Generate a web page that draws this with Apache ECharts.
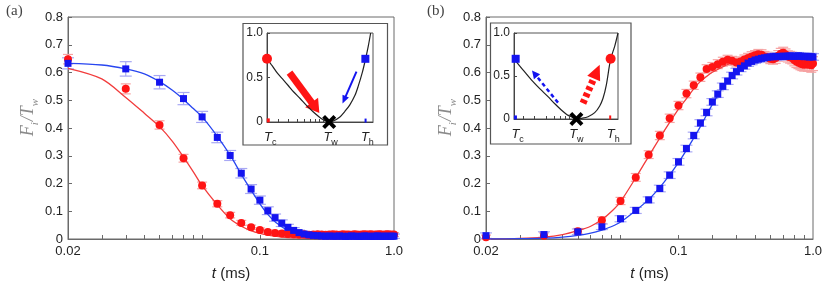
<!DOCTYPE html>
<html><head><meta charset="utf-8">
<script src="https://cdn.jsdelivr.net/npm/echarts@6/dist/echarts.min.js"></script>
<style>html,body{margin:0;padding:0;background:#fff}#c{width:830px;height:286px}</style>
</head><body><div id="c"></div>
<script>
// ---------- data ----------
const tSamples = [0.02,0.04,0.06,0.08,0.1,0.12,0.14,0.16,0.18,0.2,
  0.22,0.24,0.26,0.28,0.3,0.32,0.34,0.36,0.38,0.4,
  0.42,0.44,0.46,0.48,0.5,0.52,0.54,0.56,0.58,0.6,
  0.62,0.64,0.66,0.68,0.7,0.72,0.74,0.76,0.78,0.8,
  0.82,0.84,0.86,0.88,0.9,0.92,0.94,0.96,0.98,1.0];

const redA = [0.648,0.541,0.411,0.291,0.193,0.127,0.086,0.058,0.042,0.032,
  0.025,0.022,0.020,0.018,0.017,0.016,0.017,0.015,0.016,0.017,
  0.016,0.015,0.016,0.017,0.016,0.015,0.017,0.016,0.016,0.015,
  0.017,0.016,0.015,0.016,0.017,0.016,0.016,0.017,0.015,0.016,
  0.016,0.017,0.016,0.015,0.016,0.017,0.016,0.016,0.015,0.016];
const redAErr = [0.017,0.018,0.015,0.014,0.012,0.011,0.010,0.009,0.008,0.008,
  0.008,0.007,0.007,0.007,0.007,0.007,0.007,0.007,0.007,0.007,
  0.007,0.007,0.007,0.007,0.007,0.007,0.007,0.007,0.007,0.007,
  0.007,0.007,0.007,0.007,0.007,0.007,0.007,0.007,0.007,0.007,
  0.007,0.007,0.007,0.007,0.007,0.007,0.007,0.007,0.007,0.007];
const blueA = [0.633,0.613,0.565,0.506,0.440,0.366,0.301,0.237,0.180,0.140,
  0.102,0.077,0.057,0.042,0.031,0.023,0.018,0.015,0.013,0.012,
  0.011,0.010,0.011,0.010,0.010,0.011,0.010,0.009,0.010,0.011,
  0.010,0.010,0.009,0.010,0.011,0.010,0.010,0.009,0.010,0.010,
  0.011,0.010,0.009,0.010,0.010,0.010,0.009,0.010,0.010,0.010];
const blueAErr = [0.020,0.026,0.024,0.022,0.020,0.019,0.018,0.017,0.016,0.015,
  0.014,0.013,0.012,0.011,0.010,0.009,0.009,0.008,0.008,0.008,
  0.008,0.008,0.008,0.008,0.008,0.008,0.008,0.008,0.008,0.008,
  0.008,0.008,0.008,0.008,0.008,0.008,0.008,0.008,0.008,0.008,
  0.008,0.008,0.008,0.008,0.008,0.008,0.008,0.008,0.008,0.008];

const redB = [0.006,0.012,0.028,0.068,0.137,0.222,0.304,0.373,0.435,0.481,
  0.524,0.554,0.583,0.613,0.620,0.630,0.639,0.646,0.642,0.636,
  0.640,0.647,0.652,0.658,0.662,0.666,0.664,0.658,0.655,0.650,
  0.648,0.652,0.660,0.668,0.671,0.665,0.658,0.655,0.652,0.645,
  0.640,0.636,0.632,0.630,0.628,0.632,0.628,0.630,0.626,0.632];
const redBErr = [0.008,0.010,0.010,0.012,0.013,0.014,0.014,0.015,0.015,0.015,
  0.015,0.015,0.015,0.015,0.016,0.016,0.016,0.016,0.016,0.016,
  0.016,0.016,0.017,0.017,0.017,0.017,0.018,0.018,0.018,0.018,
  0.018,0.019,0.019,0.019,0.020,0.020,0.020,0.021,0.021,0.021,
  0.022,0.022,0.022,0.023,0.023,0.024,0.024,0.024,0.025,0.025];
const blueB = [0.012,0.016,0.026,0.044,0.073,0.103,0.141,0.182,0.230,0.278,
  0.326,0.373,0.418,0.456,0.494,0.522,0.550,0.569,0.589,0.603,
  0.615,0.624,0.634,0.640,0.645,0.648,0.651,0.653,0.655,0.656,
  0.657,0.658,0.657,0.658,0.659,0.658,0.659,0.660,0.659,0.658,
  0.659,0.660,0.659,0.658,0.657,0.658,0.657,0.656,0.657,0.656];
const blueBErr = [0.010,0.010,0.010,0.010,0.011,0.011,0.011,0.012,0.012,0.012,
  0.012,0.012,0.012,0.012,0.012,0.012,0.012,0.012,0.012,0.012,
  0.012,0.012,0.012,0.012,0.012,0.012,0.012,0.012,0.012,0.012,
  0.012,0.012,0.012,0.012,0.012,0.012,0.012,0.012,0.012,0.012,
  0.012,0.012,0.012,0.012,0.012,0.012,0.012,0.012,0.012,0.012];

// fitted curves
const fitT = [0.02,0.03,0.04,0.05,0.06,0.07,0.08,0.09,0.1,0.12,0.14,0.16,0.18,0.2,0.22,0.24,0.26,0.28,0.3,0.35,0.4,0.5,0.6,0.8,1.0];
const redFitA  = [0.615,0.577,0.51,0.453,0.405,0.352,0.295,0.242,0.192,0.123,0.073,0.046,0.03,0.02,0.014,0.01,0.007,0.005,0.004,0.002,0.001,0,0,0,0];
const blueFitA = [0.633,0.627,0.613,0.595,0.567,0.536,0.503,0.47,0.44,0.37,0.302,0.233,0.176,0.127,0.089,0.062,0.044,0.03,0.02,0.009,0.004,0.001,0,0,0];
const redFitB  = [0,0.002,0.007,0.016,0.03,0.046,0.07,0.1,0.135,0.221,0.298,0.364,0.42,0.468,0.506,0.541,0.568,0.586,0.601,0.625,0.642,0.658,0.662,0.665,0.665];
const blueFitB = [0,0.001,0.003,0.007,0.013,0.021,0.032,0.045,0.061,0.103,0.142,0.186,0.231,0.275,0.32,0.364,0.405,0.447,0.485,0.56,0.605,0.64,0.652,0.658,0.66];

// axis ticks / labels
const xTickValues = [0.02, 0.2, 1.0];
const xTickLabels = ['0.02', '0.1', '1.0'];
const xMinorTicksA = [0.03,0.04,0.05,0.06,0.07,0.08,0.09,0.1,0.2];
const xMinorTicksB = [0.03,0.04,0.05,0.06,0.07,0.08,0.09,0.1,0.2,0.3,0.4,0.5,0.6,0.7,0.8,0.9];
const yTickValues = [0,0.1,0.2,0.3,0.4,0.5,0.6,0.7,0.8];

// insets
const insetACurveX = [0,0.05,0.1,0.156,0.2,0.25,0.3125,0.37,0.4375,0.49,0.53,0.56,0.587,0.62,0.6875,0.735,0.78,0.83,0.86,0.9,0.93,0.955,0.978];
const insetACurveY = [0.71,0.63,0.545,0.47,0.41,0.34,0.264,0.19,0.113,0.06,0.026,0.008,0,0.008,0.057,0.12,0.19,0.3,0.4,0.56,0.71,0.85,1.0];
const insetBCurveX = [0,0.08,0.167,0.25,0.327,0.39,0.455,0.51,0.55,0.6,0.65,0.712,0.776,0.824,0.856,0.888,0.929,0.968,1.0];
const insetBCurveY = [0.70,0.58,0.455,0.35,0.26,0.18,0.105,0.05,0.027,0,0.008,0.027,0.074,0.152,0.241,0.397,0.696,0.844,1.0];
const insetARed = [[0, 0.71]];
const insetABlue = [[0.928, 0.71]];
const insetAMin = [[0.587, 0]];
const insetBRed = [[0.929, 0.70]];
const insetBBlue = [[0.016, 0.70]];
const insetBMin = [[0.6, 0]];
const insetARedTick = [[0.012, 0.018]];
const insetABlueTick = [[0.93, 0.016]];
const insetBRedTick = [[0.925, 0.018]];
const insetBBlueTick = [[0.014, 0.018]];
const arrowARed = [0.2125, 0.555, 0.494, 0.102];
const arrowABlue = [0.844, 0.566, 0.7125, 0.208];
const arrowBBlue = [0.423, 0.19, 0.173, 0.564];
const arrowBRed = [0.663, 0.183, 0.824, 0.63];
const insetXTicksA = [0.106,0.205,0.289,0.355,0.411,0.454,0.492,0.53];
const insetXTicksB = [0.087,0.199,0.311,0.391,0.449,0.497,0.535];
const insetLabelXA = [0.03, 0.6, 0.947];
const insetLabelXB = [0.035, 0.6, 0.955];
const insetLabelText = ['{t|T}{s|c}', '{t|T}{s|w}', '{t|T}{s|h}'];

// ---------- styles ----------
const RED = '#ff1414', BLUE = '#1414f0';
const RED_LINE = '#f23c3c', BLUE_LINE = '#2846f0';
const RED_ERR = '#f6a3a3', BLUE_ERR = '#a8a8f4';
const AX = '#6a6a6a';
const SANS = 'Liberation Sans';

const zip = (xs, ys) => xs.map((x, i) => [x, ys[i]]);
const zip3 = (xs, ys, es) => xs.map((x, i) => [x, ys[i], es[i]]);

function labelFor(v, vals, labels) {
  for (let i = 0; i < vals.length; i++) if (Math.abs(vals[i] - v) < 1e-6) return labels[i];
  return '';
}

function errSeries(g, data, color, half) {
  return {
    type: 'custom', xAxisIndex: g, yAxisIndex: g, data, z: 2, silent: true,
    renderItem(params, api) {
      const t = api.value(0), v = api.value(1), e = api.value(2);
      const top = api.coord([t, v + e]);
      const bot = api.coord([t, Math.max(v - e, 0.0001)]);
      const st = {stroke: color, lineWidth: 1.2};
      return {type: 'group', children: [
        {type: 'line', shape: {x1: top[0], y1: top[1], x2: bot[0], y2: bot[1]}, style: st},
        {type: 'line', shape: {x1: top[0] - half, y1: top[1], x2: top[0] + half, y2: top[1]}, style: st},
        {type: 'line', shape: {x1: bot[0] - half, y1: bot[1], x2: bot[0] + half, y2: bot[1]}, style: st}
      ]};
    }
  };
}
function fitSeries(g, data, color) {
  return {type: 'line', xAxisIndex: g, yAxisIndex: g, data, showSymbol: false, symbol: 'none',
    smooth: 0.3, lineStyle: {color, width: 1.3}, z: 3, silent: true};
}
function ptSeries(g, data, color, symbol, size, z) {
  return {type: 'scatter', xAxisIndex: g, yAxisIndex: g, data, symbol, symbolSize: size,
    itemStyle: {color, opacity: 1}, z, clip: false, silent: true};
}
function arrowSeries(g, coords, color, width, dash, headLen, headW) {
  return {
    type: 'custom', xAxisIndex: g, yAxisIndex: g, data: [coords], z: 6, silent: true, clip: false,
    renderItem(params, api) {
      const p1 = api.coord([api.value(0), api.value(1)]);
      const p2 = api.coord([api.value(2), api.value(3)]);
      const dx = p2[0] - p1[0], dy = p2[1] - p1[1], len = Math.hypot(dx, dy);
      const ux = dx / len, uy = dy / len, nx = -uy, ny = ux;
      const bx = p2[0] - ux * headLen, by = p2[1] - uy * headLen;
      return {type: 'group', children: [
        {type: 'line', shape: {x1: p1[0], y1: p1[1], x2: bx + ux, y2: by + uy},
          style: {stroke: color, lineWidth: width, lineDash: dash || null}},
        {type: 'polygon', shape: {points: [[p2[0], p2[1]], [bx + nx * headW / 2, by + ny * headW / 2], [bx - nx * headW / 2, by - ny * headW / 2]]},
          style: {fill: color}}
      ]};
    }
  };
}

function mainX(g, minor) {
  return {
    type: 'log', logBase: 10, gridIndex: g, min: 0.02, max: 1,
    axisLine: {show: true, lineStyle: {color: AX, width: 1}},
    axisTick: {show: true, inside: true, length: 4, customValues: minor, lineStyle: {color: AX}},
    minorTick: {show: false}, splitLine: {show: false}, minorSplitLine: {show: false},
    axisLabel: {customValues: xTickValues, formatter: v => labelFor(v, xTickValues, xTickLabels),
      color: '#222', fontSize: 13, fontFamily: SANS, margin: 6},
    name: '{i|t} (ms)', nameLocation: 'middle', nameGap: 27,
    nameTextStyle: {color: '#222', fontSize: 15, fontFamily: SANS,
      rich: {i: {fontStyle: 'italic', fontSize: 15, fontFamily: SANS, color: '#222'}}}
  };
}
function mainY(g) {
  return {
    type: 'value', gridIndex: g, min: 0, max: 0.8, interval: 0.1,
    axisLine: {show: true, lineStyle: {color: AX, width: 1}},
    axisTick: {show: true, inside: true, length: 4, lineStyle: {color: AX}},
    splitLine: {show: false},
    axisLabel: {customValues: yTickValues, formatter: v => (v === 0 ? '0' : v.toFixed(1)),
      color: '#222', fontSize: 13, fontFamily: SANS, margin: 5},
    name: '{f|F}{s|i}{f|/T}{s|w}', nameLocation: 'middle', nameRotate: 90, nameGap: 30,
    nameTextStyle: {padding: [0, 0, 0, 22],
      rich: {
        f: {fontFamily: 'Liberation Serif', fontStyle: 'italic', fontSize: 18, color: '#8a8a8a', lineHeight: 20, verticalAlign: 'bottom'},
        s: {fontFamily: 'Liberation Serif', fontStyle: 'italic', fontSize: 11, color: '#8a8a8a', lineHeight: 20, verticalAlign: 'bottom', padding: [0, 1, -4, 0]}
      }}
  };
}
function insetX(g, ticks, labelX) {
  return {
    type: 'value', gridIndex: g, min: 0, max: 1, z: 7,
    axisLine: {show: true, lineStyle: {color: '#444', width: 1}},
    axisTick: {show: true, inside: true, length: 3, customValues: ticks, lineStyle: {color: '#444'}},
    splitLine: {show: false},
    axisLabel: {customValues: labelX, formatter: v => labelFor(v, labelX, insetLabelText), margin: 6,
      rich: {
        t: {fontFamily: SANS, fontStyle: 'italic', fontSize: 13, color: '#222', verticalAlign: 'bottom', lineHeight: 16},
        s: {fontFamily: SANS, fontSize: 9, color: '#222', verticalAlign: 'bottom', lineHeight: 16, padding: [0, 0, -3, 0]}
      }}
  };
}
function insetY(g) {
  return {
    type: 'value', gridIndex: g, min: 0, max: 1, interval: 0.5, z: 7,
    axisLine: {show: true, lineStyle: {color: '#444', width: 1}},
    axisTick: {show: true, inside: true, length: 3, lineStyle: {color: '#444'}},
    splitLine: {show: false},
    axisLabel: {formatter: v => (v === 0 ? '0' : v === 1 ? '1.0' : '0.5'), color: '#222', fontSize: 12, fontFamily: SANS, margin: 4}
  };
}

const X_PATH = 'path://M0,2 L2,0 L5,3 L8,0 L10,2 L7,5 L10,8 L8,10 L5,7 L2,10 L0,8 L3,5 Z';

const option = {
  animation: false,
  backgroundColor: '#fff',
  grid: [
    {left: 68, top: 17, width: 326, height: 225, show: true, borderColor: AX, borderWidth: 1, backgroundColor: 'transparent'},
    {left: 486, top: 17, width: 327, height: 225, show: true, borderColor: AX, borderWidth: 1, backgroundColor: 'transparent'},
    {left: 267, top: 33, width: 106, height: 89, show: true, borderColor: '#555', borderWidth: 1, backgroundColor: '#fff', z: 5},
    {left: 514, top: 33, width: 104, height: 86, show: true, borderColor: '#555', borderWidth: 1, backgroundColor: '#fff', z: 5}
  ],
  xAxis: [mainX(0, xMinorTicksA), mainX(1, xMinorTicksB), insetX(2, insetXTicksA, insetLabelXA), insetX(3, insetXTicksB, insetLabelXB)],
  yAxis: [mainY(0), mainY(1), insetY(2), insetY(3)],
  graphic: [
    {type: 'rect', shape: {x: 243, y: 23.5, width: 144.5, height: 121.5}, style: {fill: '#fff', stroke: '#555', lineWidth: 1.2}, z: 4, silent: true},
    {type: 'rect', shape: {x: 490.5, y: 23, width: 140.5, height: 121}, style: {fill: '#fff', stroke: '#555', lineWidth: 1.2}, z: 4, silent: true},
    {type: 'text', left: 6, top: 4, style: {text: '(a)', font: '15px "Liberation Serif"', fill: '#444'}, z: 10},
    {type: 'text', left: 427, top: 4, style: {text: '(b)', font: '15px "Liberation Serif"', fill: '#444'}, z: 10}
  ],
  series: [
    // panel (a)
    errSeries(0, zip3(tSamples, redA, redAErr), RED_ERR, 5),
    errSeries(0, zip3(tSamples, blueA, blueAErr), BLUE_ERR, 6),
    fitSeries(0, zip(fitT, redFitA), RED_LINE),
    fitSeries(0, zip(fitT, blueFitA), BLUE_LINE),
    ptSeries(0, zip(tSamples, redA), RED, 'circle', 8, 4),
    ptSeries(0, zip(tSamples, blueA), BLUE, 'rect', 7, 4),
    // panel (b)
    errSeries(1, zip3(tSamples, redB, redBErr), RED_ERR, 5),
    errSeries(1, zip3(tSamples, blueB, blueBErr), BLUE_ERR, 6),
    fitSeries(1, zip(fitT, redFitB), RED_LINE),
    fitSeries(1, zip(fitT, blueFitB), BLUE_LINE),
    ptSeries(1, zip(tSamples, redB), RED, 'circle', 8, 4),
    ptSeries(1, zip(tSamples, blueB), BLUE, 'rect', 7, 4),
    // inset (a)
    {type: 'line', xAxisIndex: 2, yAxisIndex: 2, data: zip(insetACurveX, insetACurveY), symbol: 'none', smooth: 0.3,
      lineStyle: {color: '#222', width: 1.2}, z: 6, silent: true},
    ptSeries(2, insetARedTick, RED, 'rect', [3, 4], 7),
    ptSeries(2, insetABlueTick, BLUE, 'rect', [2, 4], 7),
    arrowSeries(2, arrowARed, RED, 7, null, 13, 16),
    arrowSeries(2, arrowABlue, BLUE, 2, null, 8, 7),
    ptSeries(2, insetARed, RED, 'circle', 10, 7),
    ptSeries(2, insetABlue, BLUE, 'rect', 8, 7),
    ptSeries(2, insetAMin, '#000', X_PATH, 14, 8),
    // inset (b)
    {type: 'line', xAxisIndex: 3, yAxisIndex: 3, data: zip(insetBCurveX, insetBCurveY), symbol: 'none', smooth: 0.3,
      lineStyle: {color: '#222', width: 1.2}, z: 6, silent: true},
    ptSeries(3, insetBRedTick, RED, 'rect', [2, 4], 7),
    ptSeries(3, insetBBlueTick, BLUE, 'rect', [3, 4], 7),
    arrowSeries(3, arrowBBlue, BLUE, 2.5, [4, 3], 8, 8),
    arrowSeries(3, arrowBRed, RED, 7, [4, 3], 15, 14),
    ptSeries(3, insetBRed, RED, 'circle', 10, 7),
    ptSeries(3, insetBBlue, BLUE, 'rect', 8, 7),
    ptSeries(3, insetBMin, '#000', X_PATH, 14, 8)
  ]
};

const chart = echarts.init(document.getElementById('c'), null, {renderer: 'canvas'});
chart.setOption(option);
</script>
</body></html>
